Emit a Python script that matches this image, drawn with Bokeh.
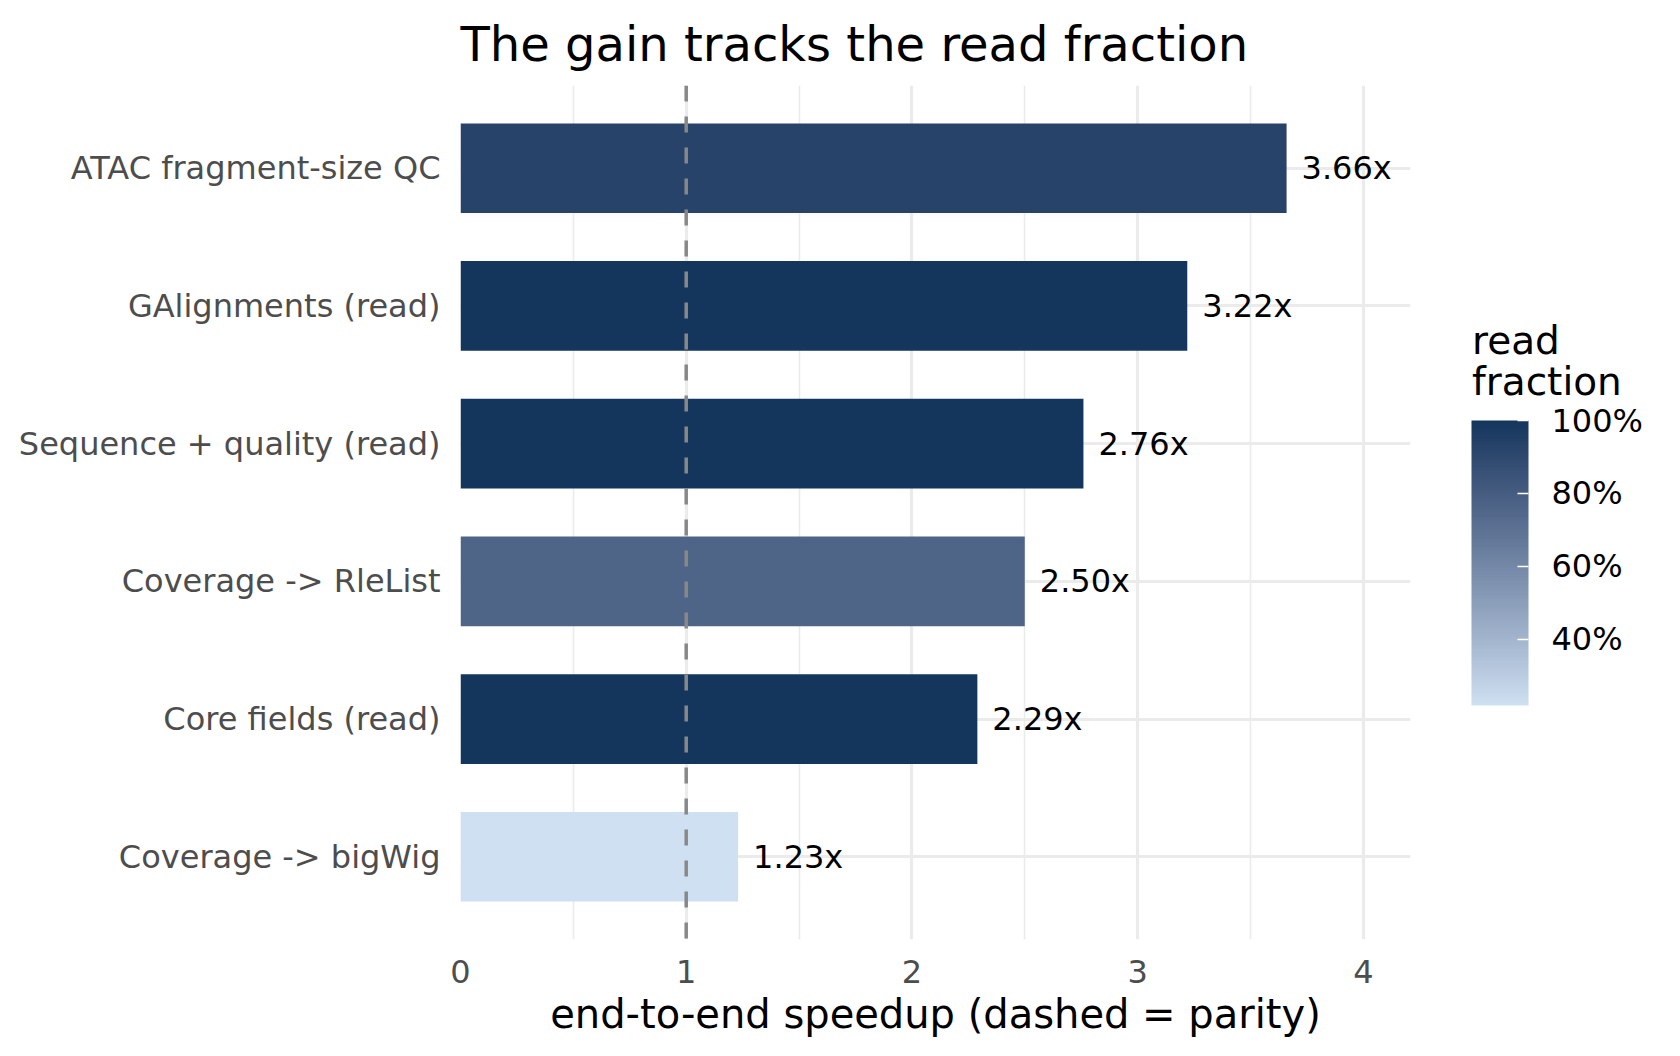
import numpy as np
from bokeh.plotting import figure
from bokeh.layouts import row
from bokeh.models import (ColumnDataSource, FactorRange, Range1d, LinearColorMapper,
                          ColorBar, FixedTicker, NumeralTickFormatter, Span)
from bokeh.transform import transform
from bokeh.core.properties import value
from bokeh.embed import file_html
from bokeh.resources import INLINE

# ---- data ----
tasks = ["ATAC fragment-size QC", "GAlignments (read)", "Sequence + quality (read)",
         "Coverage -> RleList", "Core fields (read)", "Coverage -> bigWig"]
speedup = [3.66, 3.22, 2.76, 2.50, 2.29, 1.23]
read_fraction = [0.93, 1.0, 1.0, 0.76, 1.0, 0.218]
x_ticks = [0, 1, 2, 3, 4]
x_minor_ticks = [0.5, 1.5, 2.5, 3.5]
legend_ticks = [0.4, 0.6, 0.8, 1.0]
parity = 1.0
low_color = "#cfe0f2"
high_color = "#14365d"
title_text = "The gain tracks the read fraction"
legend_title_lines = ["read", "fraction"]

FONT = "DejaVu Sans"


# ---- Lab colour ramp (like ggplot's scale_fill_gradient) ----
def hex_to_rgb(h):
    h = h.lstrip("#")
    return np.array([int(h[i:i + 2], 16) / 255.0 for i in (0, 2, 4)])


def srgb_to_lin(c):
    return np.where(c <= 0.04045, c / 12.92, ((c + 0.055) / 1.055) ** 2.4)


def lin_to_srgb(c):
    c = np.clip(c, 0, 1)
    return np.where(c <= 0.0031308, 12.92 * c, 1.055 * c ** (1 / 2.4) - 0.055)


M = np.array([[0.4124, 0.3576, 0.1805], [0.2126, 0.7152, 0.0722], [0.0193, 0.1192, 0.9505]])
Minv = np.linalg.inv(M)
WHITE = np.array([0.95047, 1.0, 1.08883])


def f(t):
    d = 6 / 29
    return np.where(t > d ** 3, np.cbrt(t), t / (3 * d * d) + 4 / 29)


def finv(t):
    d = 6 / 29
    return np.where(t > d, t ** 3, 3 * d * d * (t - 4 / 29))


def rgb_to_lab(rgb):
    xyz = M @ srgb_to_lin(rgb) / WHITE
    fx, fy, fz = f(xyz)
    return np.array([116 * fy - 16, 500 * (fx - fy), 200 * (fy - fz)])


def lab_to_hex(lab):
    L, a, b = lab
    fy = (L + 16) / 116
    fx = fy + a / 500
    fz = fy - b / 200
    xyz = np.array([finv(fx), finv(fy), finv(fz)]) * WHITE
    rgb = lin_to_srgb(Minv @ xyz)
    r, g, bb = (np.round(rgb * 255)).astype(int)
    return "#%02x%02x%02x" % (r, g, bb)


lab_lo = rgb_to_lab(hex_to_rgb(low_color))
lab_hi = rgb_to_lab(hex_to_rgb(high_color))
palette = [lab_to_hex(lab_lo + (lab_hi - lab_lo) * t) for t in np.linspace(0, 1, 256)]

mapper = LinearColorMapper(palette=palette, low=min(read_fraction), high=max(read_fraction))

src = ColumnDataSource(dict(
    task=tasks,
    speedup=speedup,
    frac=read_fraction,
    label=["%.2fx" % v for v in speedup],
))

# ---------------- main panel ----------------
FRAME_W, FRAME_H = 950, 854
TOP, LEFT, RIGHT, BOTTOM = 85, 460, 10, 101
TOTAL_H = TOP + FRAME_H + BOTTOM
MAIN_W = LEFT + FRAME_W + RIGHT
p = figure(
    y_range=FactorRange(factors=tasks[::-1], range_padding=0.1, range_padding_units="absolute"),
    x_range=Range1d(0, max(speedup) * 1.15),
    frame_width=FRAME_W, frame_height=FRAME_H,
    min_border_left=LEFT, min_border_top=TOP, min_border_right=RIGHT, min_border_bottom=BOTTOM,
    output_backend="svg", toolbar_location=None,
    title=title_text,
)
p.background_fill_color = "white"
p.border_fill_color = "white"
p.outline_line_color = None

p.title.text_font = FONT
p.title.text_font_size = "48px"
p.title.text_font_style = "normal"
p.title.text_color = "black"
p.title.align = "left"
p.title.vertical_align = "middle"
p.title.standoff = 25

# bars
p.hbar(y="task", left=0, right="speedup", height=0.65, source=src,
       fill_color=transform("frac", mapper), line_color=None)

# parity line
p.add_layout(Span(location=parity, dimension="height", line_color="#888888",
                  line_width=3.5, line_dash="16 15"))

# value labels
p.text(x="speedup", y="task", text="label", source=src, x_offset=15,
       text_baseline="middle", text_align="left", text_font=value(FONT),
       text_font_size="32px", text_color="black")

# axes
p.xaxis.ticker = FixedTicker(ticks=x_ticks, minor_ticks=x_minor_ticks)
for ax in (p.xaxis[0], p.yaxis[0]):
    ax.axis_line_color = None
    ax.major_tick_line_color = None
    ax.minor_tick_line_color = None
    ax.major_label_text_font = FONT
    ax.major_label_text_font_size = "32px"
    ax.major_label_text_color = "#4d4d4d"
p.xaxis.major_label_standoff = 14
p.yaxis.major_label_standoff = 14
p.xaxis.axis_label = "end-to-end speedup (dashed = parity)"
p.xaxis.axis_label_text_font = FONT
p.xaxis.axis_label_text_font_size = "40px"
p.xaxis.axis_label_text_font_style = "normal"
p.xaxis.axis_label_text_color = "black"
p.xaxis.axis_label_standoff = 5

# grid
p.xgrid.grid_line_color = "#ebebeb"
p.xgrid.grid_line_width = 3.2
p.xgrid.minor_grid_line_color = "#ebebeb"
p.xgrid.minor_grid_line_width = 1.6
p.ygrid.grid_line_color = "#ebebeb"
p.ygrid.grid_line_width = 3.2

# ---------------- legend panel (frame aligned with the main frame) ----------------
LEG_W = 1664 - MAIN_W
q = figure(
    x_range=Range1d(MAIN_W, MAIN_W + LEG_W), y_range=Range1d(TOP + FRAME_H, TOP),
    frame_width=LEG_W, frame_height=FRAME_H,
    min_border_left=0, min_border_right=0, min_border_top=TOP, min_border_bottom=BOTTOM,
    output_backend="svg", toolbar_location=None,
)
q.axis.visible = False
q.grid.visible = False
q.outline_line_color = None
q.background_fill_color = "white"
q.border_fill_color = "white"

# legend title (two lines); coordinates of this panel are canvas pixels
q.text(x=[1471.5, 1471.5], y=[339.5, 381.0], text=legend_title_lines,
       text_font=value(FONT), text_font_size="39px", text_color="black",
       text_baseline="alphabetic", text_align="left")

cb = ColorBar(
    color_mapper=mapper, location=(1471 - MAIN_W, (TOP + FRAME_H) - 705), orientation="vertical",
    width=57, height=285,
    ticker=FixedTicker(ticks=legend_ticks),
    formatter=NumeralTickFormatter(format="0%"),
    major_label_text_font=FONT, major_label_text_font_size="32px",
    major_label_text_color="black", label_standoff=23,
    major_tick_line_color="white", major_tick_line_width=1.5,
    major_tick_in=11, major_tick_out=0, minor_tick_line_color=None,
    bar_line_color=None, border_line_color=None, background_fill_color=None,
    padding=0, margin=0,
)
q.add_layout(cb)

layout = row(p, q, spacing=0)
open("out.html", "w").write(file_html(layout, INLINE))
